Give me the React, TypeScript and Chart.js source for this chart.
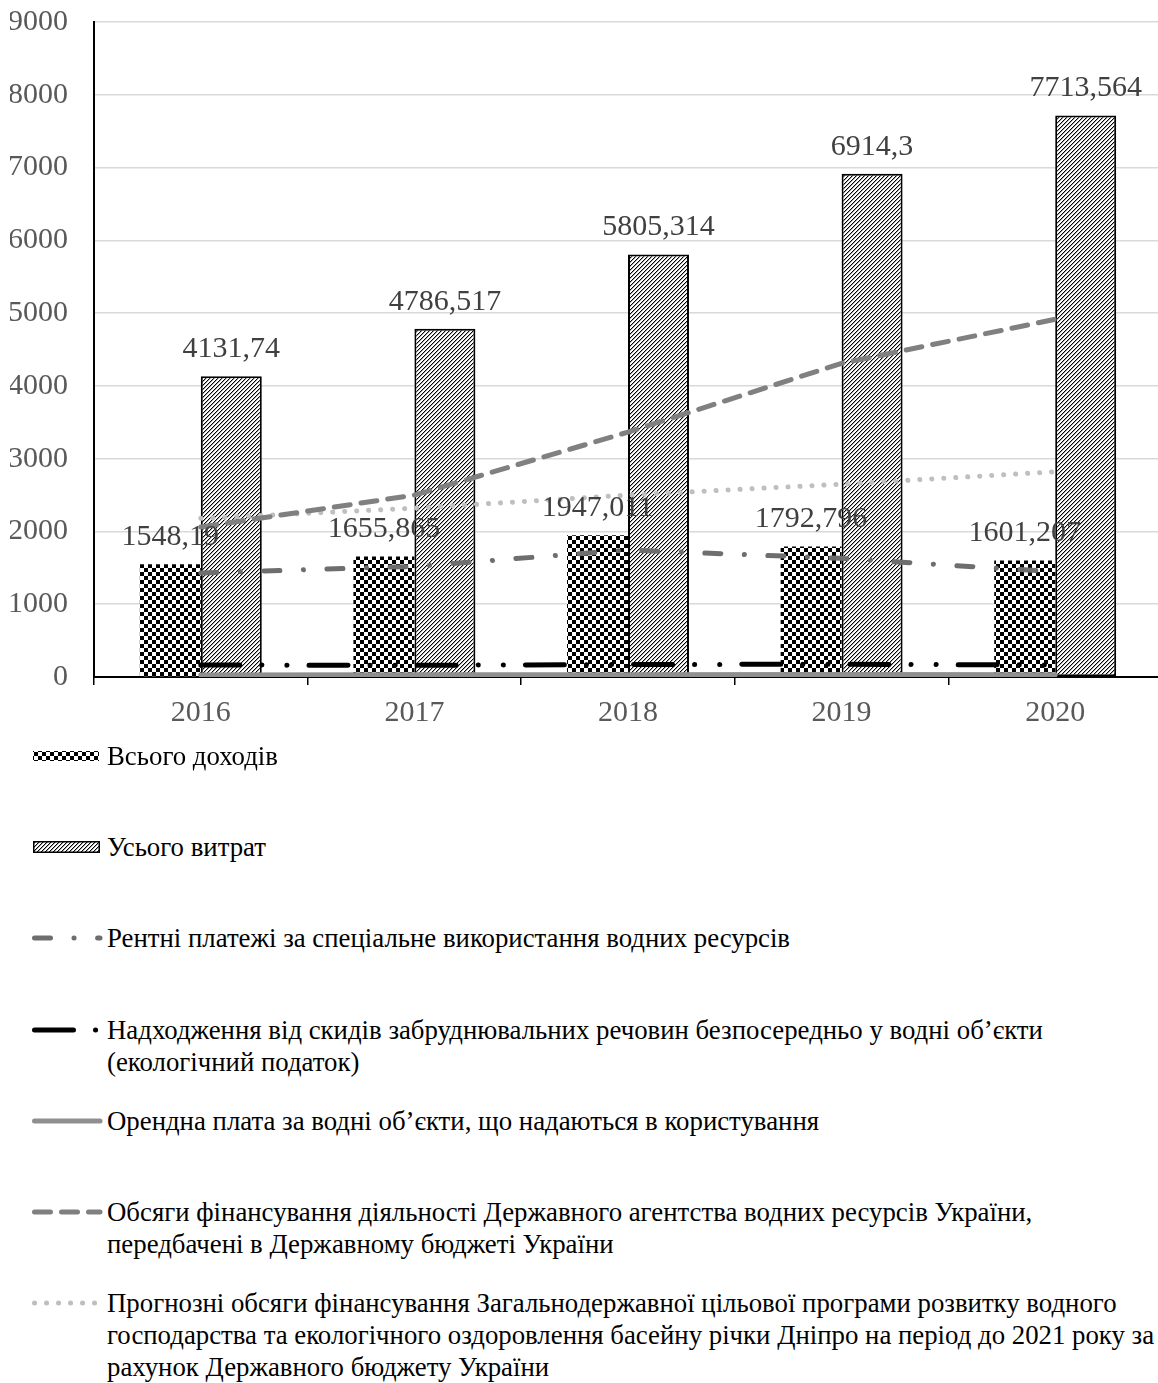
import React, { useEffect, useRef } from 'react';
import { Chart, registerables } from 'chart.js';

Chart.register(...registerables);

// ---------------- data ----------------
const years = ['2016', '2017', '2018', '2019', '2020'];
const totalIncome = [1548.19, 1655.865, 1947.011, 1792.796, 1601.207];
const totalExpenses = [4131.74, 4786.517, 5805.314, 6914.3, 7713.564];
const rentPayments = [1430, 1520, 1745, 1630, 1445];
const ecoTax = [165, 160, 172, 175, 165];
const leaseFees = [28, 30, 32, 33, 30];
const agencyFunding = [2060, 2500, 3365, 4310, 4915];
const programForecast = [2180, 2320, 2500, 2650, 2820];
const yMin = 0;
const yMax = 9000;
const yStep = 1000;

const legendLines: string[][] = [
  ['Всього доходів'],
  ['Усього витрат'],
  ['Рентні платежі за спеціальне використання водних ресурсів'],
  ['Надходження від скидів забруднювальних речовин безпосередньо у водні об’єкти', '(екологічний податок)'],
  ['Орендна плата за водні об’єкти, що надаються в користування'],
  ['Обсяги фінансування діяльності Державного агентства водних ресурсів України,', 'передбачені в Державному бюджеті України'],
  [
    'Прогнозні обсяги фінансування Загальнодержавної цільової програми розвитку водного',
    'господарства та екологічного оздоровлення басейну річки Дніпро на період до 2021 року за',
    'рахунок Державного бюджету України',
  ],
];
const seriesNames = legendLines.map((l) => l.join(' '));

// ---------------- styles ----------------
const FONT = '"Liberation Serif", "Times New Roman", serif';
const AXIS_FONT_SIZE = 30;

type LineStyle = { color: string; width: number; dash: number[] };
const lineStyles: LineStyle[] = [
  { color: '#6e6e6e', width: 5, dash: [16, 23.5, 0.1, 23.5] },
  { color: '#000000', width: 5, dash: [39, 22, 0.1, 25, 0.1, 22] },
  { color: '#8f8f8f', width: 5, dash: [] },
  { color: '#808080', width: 5, dash: [16, 11] },
  { color: '#bfbfbf', width: 5, dash: [0.1, 11.9] },
];

function makeChecker(ctx: CanvasRenderingContext2D): CanvasPattern | string {
  const c = document.createElement('canvas');
  c.width = 8;
  c.height = 8;
  const x = c.getContext('2d');
  if (!x) return '#000';
  x.fillStyle = '#fff';
  x.fillRect(0, 0, 8, 8);
  x.fillStyle = '#000';
  x.fillRect(0, 0, 4, 4);
  x.fillRect(4, 4, 4, 4);
  return ctx.createPattern(c, 'repeat') || '#000';
}

function makeHatch(ctx: CanvasRenderingContext2D): CanvasPattern | string {
  const s = 4;
  const c = document.createElement('canvas');
  c.width = s;
  c.height = s;
  const x = c.getContext('2d');
  if (!x) return '#888';
  const img = x.createImageData(s, s);
  for (let py = 0; py < s; py++) {
    for (let px = 0; px < s; px++) {
      const k = (px + py) % s;
      const v = k === 3 ? 0 : k === 0 ? 170 : 255;
      const o = (py * s + px) * 4;
      img.data[o] = v;
      img.data[o + 1] = v;
      img.data[o + 2] = v;
      img.data[o + 3] = 255;
    }
  }
  x.putImageData(img, 0, 0);
  return ctx.createPattern(c, 'repeat') || '#888';
}

const formatValue = (v: number) => String(v).replace('.', ',');

const valueLabelPlugin = {
  id: 'valueLabels',
  afterDatasetsDraw(chart: any) {
    const ctx: CanvasRenderingContext2D = chart.ctx;
    ctx.save();
    ctx.font = `${AXIS_FONT_SIZE}px ${FONT}`;
    ctx.fillStyle = '#404040';
    ctx.textAlign = 'center';
    ctx.textBaseline = 'middle';
    [0, 1].forEach((di) => {
      const meta = chart.getDatasetMeta(di);
      meta.data.forEach((el: any, i: number) => {
        const v = chart.data.datasets[di].data[i] as number;
        ctx.fillText(formatValue(v), el.x, el.y - 27);
      });
    });
    ctx.restore();
  },
};

// ---------------- legend swatch ----------------
function Swatch({ index }: { index: number }) {
  const ref = useRef<HTMLCanvasElement>(null);
  useEffect(() => {
    const c = ref.current;
    if (!c) return;
    const ctx = c.getContext('2d');
    if (!ctx) return;
    ctx.clearRect(0, 0, c.width, c.height);
    if (index === 0) {
      ctx.fillStyle = makeChecker(ctx);
      ctx.fillRect(3, 3, 66, 10);
    } else if (index === 1) {
      ctx.fillStyle = makeHatch(ctx);
      ctx.fillRect(3, 2, 67, 12);
      ctx.strokeStyle = '#000';
      ctx.lineWidth = 1.5;
      ctx.strokeRect(3.75, 2.75, 65.5, 10.5);
    } else {
      const st = lineStyles[index - 2];
      ctx.strokeStyle = st.color;
      ctx.lineWidth = st.width;
      ctx.lineCap = 'round';
      ctx.setLineDash(st.dash);
      ctx.beginPath();
      ctx.moveTo(4.5, 8);
      ctx.lineTo(70, 8);
      ctx.stroke();
    }
  }, [index]);
  return (
    <canvas
      ref={ref}
      width={74}
      height={16}
      style={{ position: 'absolute', left: 30, top: 8, width: 74, height: 16 }}
    />
  );
}

// ---------------- app ----------------
export default function App() {
  const canvasRef = useRef<HTMLCanvasElement>(null);

  useEffect(() => {
    const canvas = canvasRef.current;
    if (!canvas) return;
    const ctx = canvas.getContext('2d');
    if (!ctx) return;
    const checker = makeChecker(ctx);
    const hatch = makeHatch(ctx);

    const lineData = [rentPayments, ecoTax, leaseFees, agencyFunding, programForecast];

    const chart = new Chart(canvas, {
      type: 'bar',
      data: {
        labels: years,
        datasets: [
          {
            type: 'bar',
            label: seriesNames[0],
            data: totalIncome,
            backgroundColor: checker as any,
            borderWidth: 0,
            categoryPercentage: 0.571,
            barPercentage: 1,
            order: 2,
          },
          {
            type: 'bar',
            label: seriesNames[1],
            data: totalExpenses,
            backgroundColor: hatch as any,
            borderColor: '#000',
            borderWidth: 2,
            borderSkipped: false,
            categoryPercentage: 0.571,
            barPercentage: 1,
            order: 2,
          },
          ...lineData.map((d, i) => ({
            type: 'line' as const,
            label: seriesNames[i + 2],
            data: d,
            borderColor: lineStyles[i].color,
            borderWidth: lineStyles[i].width,
            borderDash: lineStyles[i].dash,
            borderCapStyle: 'round' as const,
            borderJoinStyle: 'round' as const,
            pointRadius: 0,
            pointHoverRadius: 0,
            fill: false,
            tension: 0,
            order: 1,
          })),
        ],
      } as any,
      options: {
        animation: false,
        responsive: false,
        maintainAspectRatio: false,
        layout: { padding: { left: 10, right: 0, top: 0, bottom: 5 } },
        plugins: {
          legend: { display: false },
          tooltip: { enabled: false },
        },
        scales: {
          x: {
            offset: true,
            grid: {
              display: true,
              drawOnChartArea: false,
              drawTicks: true,
              tickLength: 8,
              color: '#000',
              lineWidth: 1.5,
              offset: true,
            },
            border: { display: true, color: '#000', width: 2 },
            ticks: { color: '#595959', font: { family: FONT, size: AXIS_FONT_SIZE }, padding: 10 },
          },
          y: {
            min: yMin,
            max: yMax,
            ticks: {
              stepSize: yStep,
              color: '#595959',
              font: { family: FONT, size: AXIS_FONT_SIZE },
              padding: 26,
              callback: (v: any) => String(v),
            },
            grid: { color: '#d9d9d9', lineWidth: 1.5, drawTicks: false },
            border: { display: true, color: '#000', width: 2 },
            afterFit: (scale: any) => {
              scale.width = 84;
              scale.paddingTop = 22;
              scale.paddingBottom = 0;
            },
          },
        },
      } as any,
      plugins: [valueLabelPlugin],
    });
    return () => chart.destroy();
  }, []);

  const LEGEND_TOP = 756;
  const LEGEND_STEP = 91.2;

  return (
    <div
      style={{
        position: 'absolute',
        left: 0,
        top: 0,
        width: 1158,
        height: 1383,
        overflow: 'hidden',
        background: '#fff',
        fontFamily: FONT,
      }}
    >
      <canvas ref={canvasRef} width={1162} height={746} style={{ display: 'block', width: 1162, height: 746 }} />
      {legendLines.map((lines, i) => (
        <div
          key={i}
          style={{ position: 'absolute', left: 0, top: LEGEND_TOP + i * LEGEND_STEP - 16, width: 1158 }}
        >
          <Swatch index={i} />
          <div
            style={{
              position: 'absolute',
              left: 107,
              top: 0,
              fontSize: 26.8,
              lineHeight: '32px',
              whiteSpace: 'nowrap',
              color: '#000',
            }}
          >
            {lines.map((l, k) => (
              <div key={k}>{l}</div>
            ))}
          </div>
        </div>
      ))}
    </div>
  );
}
